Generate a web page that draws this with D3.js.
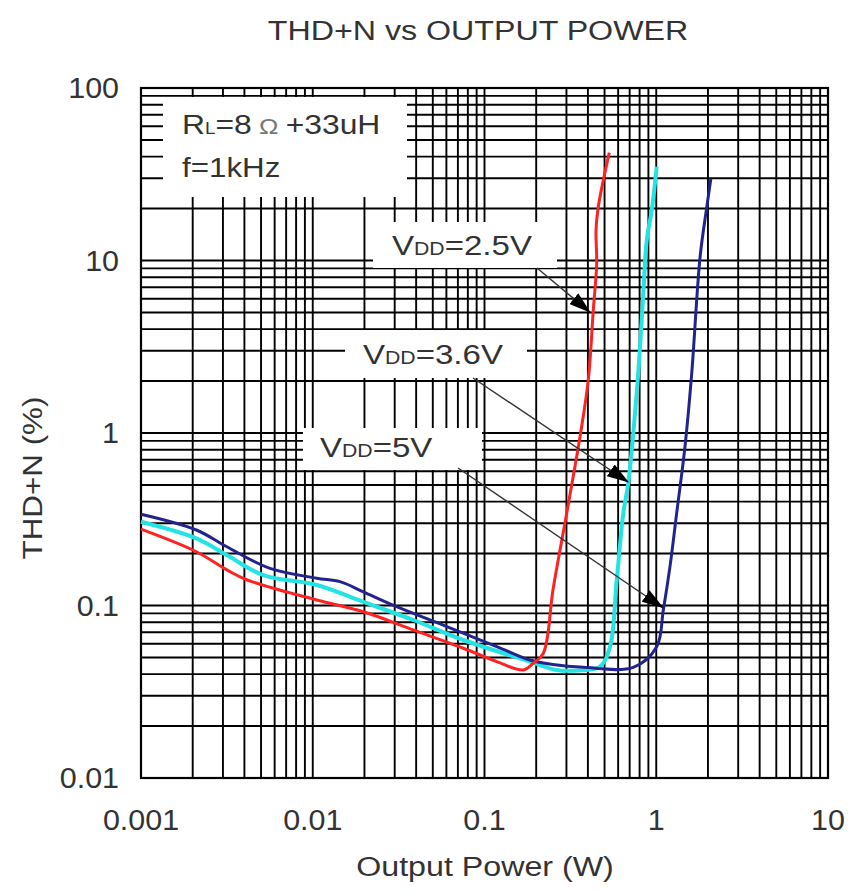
<!DOCTYPE html>
<html>
<head>
<meta charset="utf-8">
<script src="https://cdn.jsdelivr.net/npm/d3@7"></script>
<style>
  body { margin: 0; background: #fff; }
  svg { display: block; }
  text { font-family: "Liberation Sans", Arial, sans-serif; fill: #333; }
</style>
</head>
<body>
<div id="chart"></div>
<script>
// data (W, %)
const power25 = [0.001, 0.0021, 0.00316, 0.00412, 0.01055, 0.0197, 0.0385, 0.0753, 0.1178, 0.168, 0.192, 0.22, 0.251, 0.301, 0.36, 0.402, 0.43, 0.45, 0.446, 0.46, 0.492, 0.533];
const thd25   = [0.277, 0.205, 0.161, 0.141, 0.1076, 0.092, 0.0722, 0.0565, 0.0473, 0.0423, 0.0462, 0.0528, 0.125, 0.343, 0.953, 2.03, 5.16, 9.6, 15.0, 20.5, 29.3, 42.2];

const power36 = [0.001, 0.0021, 0.00316, 0.00515, 0.01055, 0.0197, 0.0385, 0.0753, 0.184, 0.263, 0.35, 0.47, 0.538, 0.589, 0.643, 0.687, 0.78, 0.838, 0.881, 0.942, 1.006];
const thd36   = [0.306, 0.245, 0.196, 0.150, 0.1315, 0.105, 0.0824, 0.0631, 0.0473, 0.0423, 0.042, 0.0442, 0.0577, 0.141, 0.343, 0.512, 2.03, 6.1, 13.2, 19.6, 35];

const power50 = [0.001, 0.0021, 0.00316, 0.00564, 0.01055, 0.0144, 0.0197, 0.0308, 0.0603, 0.1178, 0.184, 0.25, 0.376, 0.734, 1.006, 1.099, 1.202, 1.315, 1.47, 1.608, 1.8, 1.97, 2.08];
const thd50   = [0.338, 0.274, 0.219, 0.164, 0.144, 0.1375, 0.120, 0.0984, 0.0755, 0.0578, 0.0483, 0.0455, 0.0438, 0.0438, 0.0577, 0.094, 0.168, 0.343, 0.834, 2.2, 10.5, 20.5, 29.9];

const xTickValues = [0.001, 0.01, 0.1, 1, 10];
const xTickLabels = ["0.001", "0.01", "0.1", "1", "10"];
const yTickValues = [0.01, 0.1, 1, 10, 100];
const yTickLabels = ["0.01", "0.1", "1", "10", "100"];

// arrow targets on the curves
const annotationVolts = ["2.5", "3.6", "5"];
const annotationPower = [0.411, 0.686, 1.094];
const annotationThd   = [5.02, 0.52, 0.097];

const width = 848;
const height = 894;
const plot = { left: 141, right: 828, top: 88, bottom: 778 };

const svg = d3.select("#chart")
    .append("svg")
    .attr("width", width)
    .attr("height", height);

const x = d3.scaleLog().domain([0.001, 10]).range([plot.left, plot.right]);
const y = d3.scaleLog().domain([0.01, 100]).range([plot.bottom, plot.top]);

// grid
const grid = svg.append("g").attr("stroke", "#000").attr("stroke-width", 1.9);

grid.selectAll(".vx")
    .data(x.ticks())
    .enter()
    .append("line")
    .attr("x1", d => x(d)).attr("x2", d => x(d))
    .attr("y1", plot.top).attr("y2", plot.bottom);

grid.selectAll(".hy")
    .data(y.ticks())
    .enter()
    .append("line")
    .attr("x1", plot.left).attr("x2", plot.right)
    .attr("y1", d => y(d)).attr("y2", d => y(d));

svg.append("rect")
    .attr("x", plot.left).attr("y", plot.top)
    .attr("width", plot.right - plot.left)
    .attr("height", plot.bottom - plot.top)
    .attr("fill", "none")
    .attr("stroke", "#000")
    .attr("stroke-width", 2.2);

// white boxes that sit over the grid
const boxes = [
    { x: 163, y: 97, w: 244, h: 100 },
    { x: 373, y: 222, w: 184, h: 46 },
    { x: 345, y: 330, w: 182, h: 48 },
    { x: 303, y: 428, w: 179, h: 42 }
];
svg.selectAll(".box")
    .data(boxes)
    .enter()
    .append("rect")
    .attr("x", d => d.x).attr("y", d => d.y)
    .attr("width", d => d.w).attr("height", d => d.h)
    .attr("fill", "#fff");

// curves
const line = d3.line()
    .x(d => x(d[0]))
    .y(d => y(d[1]))
    .curve(d3.curveCatmullRom.alpha(0.5));

const curves = [
    { p: power36, t: thd36, color: "#22e4e4", w: 4 },
    { p: power50, t: thd50, color: "#23238f", w: 3 },
    { p: power25, t: thd25, color: "#ff2222", w: 3 }
];

svg.selectAll(".curve")
    .data(curves)
    .enter()
    .append("path")
    .attr("d", d => line(d.p.map((v, i) => [v, d.t[i]])))
    .attr("fill", "none")
    .attr("stroke", d => d.color)
    .attr("stroke-width", d => d.w)
    .attr("stroke-linejoin", "round");

// arrows
svg.append("defs")
    .append("marker")
    .attr("id", "head")
    .attr("markerUnits", "userSpaceOnUse")
    .attr("markerWidth", 24)
    .attr("markerHeight", 14)
    .attr("refX", 21)
    .attr("refY", 7)
    .attr("orient", "auto")
    .append("path")
    .attr("d", "M0,0 L22,7 L0,14 Z")
    .attr("fill", "#000");

const arrowStarts = [[537, 268], [473, 378], [458, 468]];
svg.selectAll(".arrow")
    .data(annotationVolts)
    .enter()
    .append("line")
    .attr("x1", (d, i) => arrowStarts[i][0])
    .attr("y1", (d, i) => arrowStarts[i][1])
    .attr("x2", (d, i) => x(annotationPower[i]))
    .attr("y2", (d, i) => y(annotationThd[i]))
    .attr("stroke", "#333")
    .attr("stroke-width", 1.4)
    .attr("marker-end", "url(#head)");

// text helper, slightly widened like the scanned original
function label(x0, y0, sx, size, anchor) {
    return svg.append("text")
        .attr("transform", `translate(${x0},${y0}) scale(${sx},1)`)
        .attr("text-anchor", anchor)
        .style("font-size", size + "px");
}

label(478, 40, 1.15, 28, "middle").text("THD+N vs OUTPUT POWER");
label(485, 876, 1.15, 28, "middle").text("Output Power (W)");

svg.append("text")
    .attr("transform", "translate(42,478) rotate(-90) scale(1.12,1)")
    .attr("text-anchor", "middle")
    .style("font-size", "28px")
    .text("THD+N (%)");

xTickValues.forEach((v, i) => {
    label(x(v), 830, 1.05, 29, "middle").text(xTickLabels[i]);
});
yTickValues.forEach((v, i) => {
    label(119, y(v) + 10, 1.05, 29, "end").text(yTickLabels[i]);
});

// conditions box
const cond = label(182, 134, 1.18, 27, "start");
cond.append("tspan").text("R");
cond.append("tspan").style("font-size", "16px").text("L");
cond.append("tspan").text("=8");
cond.append("tspan").style("font-size", "22px").style("fill", "#777").text(" \u03A9 ");
cond.append("tspan").text("+33uH");
label(182, 177, 1.16, 27, "start").text("f=1kHz");

// VDD labels
const vddPos = [[392, 255], [363, 364], [320, 457]];
annotationVolts.forEach((v, i) => {
    const t = label(vddPos[i][0], vddPos[i][1], 1.18, 28, "start");
    t.append("tspan").text("V");
    t.append("tspan").style("font-size", "18px").text("DD");
    t.append("tspan").text("=" + v + "V");
});
</script>
</body>
</html>
